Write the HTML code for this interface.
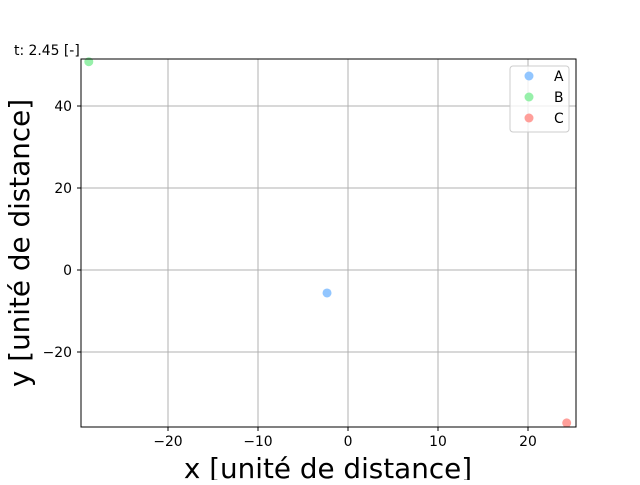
<!DOCTYPE html>
<html><head><meta charset="utf-8"><style>
body{margin:0;background:#fff;}
svg text{font-family:"DejaVu Sans","Liberation Sans",sans-serif;}
</style></head><body>
<svg id="chart" width="640" height="480" xmlns="http://www.w3.org/2000/svg">
<g id="grid"></g>
<g id="ticks"></g>
<g id="pts"></g>
<rect x="81" y="59" width="495" height="368" fill="none" stroke="#000" stroke-width="1"/>
<text x="14" y="55" font-size="13.9">t: 2.45 [-]</text>
<text x="328" y="478" font-size="27.8" text-anchor="middle">x [unité de distance]</text>
<text transform="translate(29,243) rotate(-90)" font-size="27.8" text-anchor="middle">y [unité de distance]</text>
<g>
<rect x="510" y="66" width="59" height="66" rx="3" fill="#fff" fill-opacity="0.8" stroke="#ccc"/>
<g id="leg"></g>
</g>
</svg>
<script>
const names=["A","B","C"];
const xs=[-2.33,-28.8,24.3];
const ys=[-5.6,50.8,-37.3];
const colors=["#92c6ff","#97f0aa","#ff9f9a"];
const xTicks=[-20,-10,0,10,20];
const yTicks=[-20,0,20,40];
const NS="http://www.w3.org/2000/svg";
const X=v=>348+v*9.0, Y=v=>270-v*4.1;
function mk(t,a,p){const e=document.createElementNS(NS,t);for(const k in a)e.setAttribute(k,a[k]);p.appendChild(e);return e;}
const g=document.getElementById('grid'),tk=document.getElementById('ticks'),pg=document.getElementById('pts'),lg=document.getElementById('leg');
xTicks.forEach(v=>{const x=X(v);
const l=mk('line',{x1:x,x2:x,y1:59,y2:427,stroke:'#b0b0b0','stroke-width':1},g);


const m=mk('line',{x1:x,x2:x,y1:427,y2:431,stroke:'#000'},tk);


const t=mk('text',{x:x,y:446,'font-size':13.9,'text-anchor':'middle'},tk);t.textContent=v<0?'\u2212'+(-v):v;

});
yTicks.forEach(v=>{const y=Y(v);
const l=mk('line',{x1:81,x2:576,y1:y,y2:y,stroke:'#b0b0b0','stroke-width':1},g);


const m=mk('line',{x1:77,x2:81,y1:y,y2:y,stroke:'#000'},tk);


const t=mk('text',{x:72,y:y+5,'font-size':13.9,'text-anchor':'end'},tk);t.textContent=v<0?'\u2212'+(-v):v;

});
names.forEach((n,i)=>{
const c=mk('circle',{cx:X(xs[i]),cy:Y(ys[i]),r:4.5,fill:colors[i]},pg);


const lc=mk('circle',{cx:529,cy:76+i*21,r:4.5,fill:colors[i]},lg);


const lt=mk('text',{x:554,y:81+i*21,'font-size':13.9},lg);lt.textContent=n;


});
</script>
</body></html>
